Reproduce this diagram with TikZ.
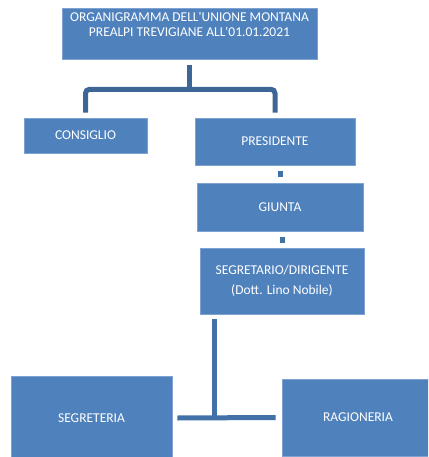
\documentclass[tikz,border=0pt]{standalone}
\usepackage{fontspec}
\setmainfont{Carlito}[Ligatures=TeXOff]
\usetikzlibrary{calc}
\definecolor{boxfill}{HTML}{4F81BD}
\definecolor{boxedge}{HTML}{7EA2D2}
\definecolor{connc}{HTML}{4271A8}
\definecolor{conndark}{HTML}{3D6596}
\tikzset{
  orgbox/.style={fill=boxfill, draw=boxedge, line width=0.6pt, text=white, align=center,
    font=\fontsize{13.5}{16}\selectfont, inner sep=0pt},
  conn/.style={draw=connc, line width=5pt},
}
\begin{document}
\begin{tikzpicture}[x=1pt,y=-1pt]
\useasboundingbox (0,0) rectangle (428,457);
\begin{scope}
\clip (0,0) rectangle (428,457);
\node[orgbox, minimum width=255pt, minimum height=51pt] (title) at (189.5,33.5) {};
\node[text=white, align=center, font=\fontsize{13.5}{15}\selectfont, anchor=north, inner sep=0pt] (titletext) at ($(title.north)+(0,4)$) {ORGANIGRAMMA DELL'UNIONE MONTANA\\PREALPI TREVIGIANE ALL'01.01.2021};
\node[orgbox, minimum width=123pt, minimum height=35pt] (cons) at (85.5,135.5) {CONSIGLIO};
\node[orgbox, minimum width=160pt, minimum height=47pt] (pres) at (275,141.5) {PRESIDENTE};
\node[orgbox, minimum width=166pt, minimum height=48pt] (giunta) at (280,207) {GIUNTA};
\node[orgbox, minimum width=164pt, minimum height=66pt, font=\fontsize{13.5}{20}\selectfont] (segr) at (282,281) {SEGRETARIO/DIRIGENTE\\(Dott. Lino Nobile)};
\node[orgbox, minimum width=161pt, minimum height=84pt] (segreteria) at (91.5,418) {SEGRETERIA};
\node[orgbox, minimum width=152pt, minimum height=77pt] (ragioneria) at (358,417.5) {RAGIONERIA};
\end{scope}
% top junction
\coordinate (j1) at ($(title.south)+(0,30)$);
\draw[conn, draw=conndark] ($(title.south)+(0,6)$) -- (j1);
\draw[conn, draw=conndark, rounded corners=4pt] ($(cons.north)+(0,-5)$) |- (j1) -| ($(pres.north)+(0,-5)$);
% small links
\draw[conn] ($(giunta.north)+(0,-12)$) -- ($(giunta.north)+(0,-6)$);
\draw[conn] ($(segr.north)+(0,-11)$) -- ($(segr.north)+(0,-5)$);
% bottom junction
\coordinate (j2top) at ($(segr.south west)+(14.5,5)$);
\coordinate (j2) at (j2top |- segreteria.east);
\draw[conn] (j2top) -- (j2);
\draw[conn] ($(segreteria.east)+(5,0)$) -- ($(ragioneria.west)+(-6,0)$);
\end{tikzpicture}
\end{document}
